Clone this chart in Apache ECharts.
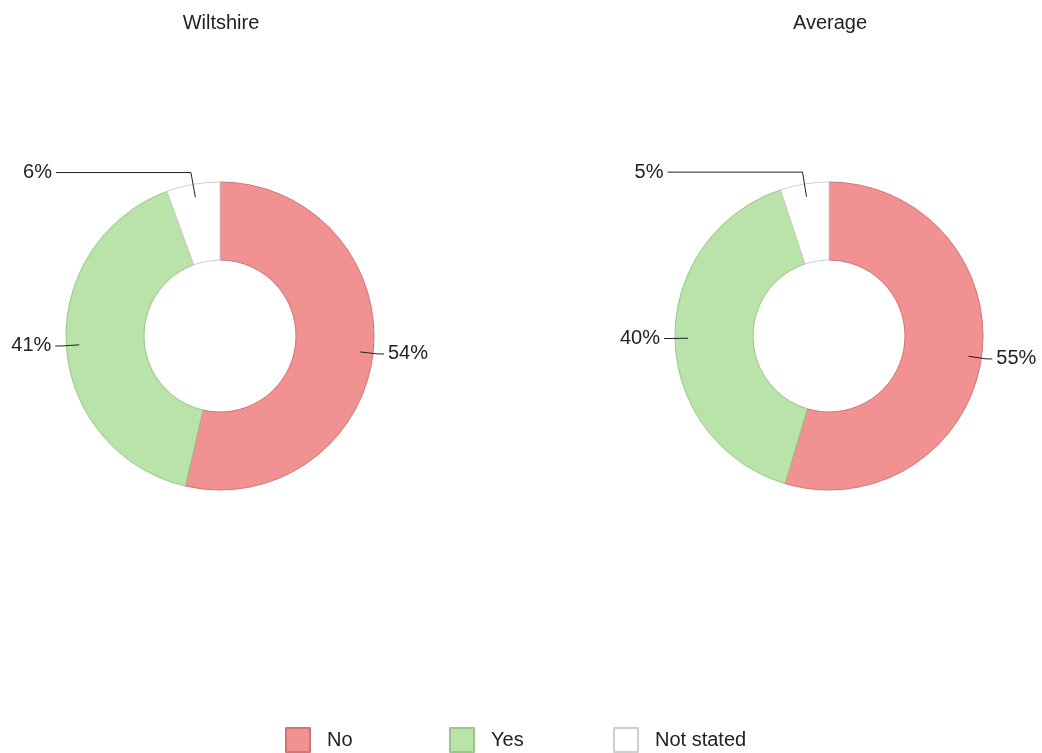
<!DOCTYPE html>
<html>
<head>
<meta charset="utf-8">
<script src="https://cdn.jsdelivr.net/npm/echarts@6/dist/echarts.min.js"></script>
<style>
  html, body { margin: 0; padding: 0; background: #fff; }
  #chart { width: 1042px; height: 753px; }
</style>
</head>
<body>
<div id="chart"></div>
<script>
// categories and values (percent)
var categories = ['No', 'Yes', 'Not stated'];
var wiltshireValues = [53.6, 40.8, 5.6];
var averageValues = [54.6, 40.3, 5.1];
var areaNames = ['Wiltshire', 'Average'];

var fills = ['#F29191', '#B9E3A8', '#FFFFFF'];
var borders = ['#D07575', '#98C788', '#CFCFCF'];
// label line lengths per slice [radial, horizontal]
var lineLens = [[18, 6], [18, 6], [25, 135]];

var centers = [[220, 336], [829, 336]];
var legendLeft = [280, 444, 608];
var font = 'Liberation Sans, Arial, sans-serif';

function ringSeries(values, center) {
  return {
    type: 'pie',
    z: 2,
    center: center,
    radius: [76, 154],
    startAngle: 90,
    label: { show: false },
    labelLine: { show: false },
    emphasis: { disabled: true },
    data: categories.map(function (c, i) {
      return {
        name: c,
        value: values[i],
        itemStyle: { color: fills[i], borderColor: borders[i], borderWidth: 1 }
      };
    })
  };
}

function labelSeries(values, center) {
  return {
    type: 'pie',
    z: 5,
    center: center,
    radius: [0, 141],
    startAngle: 90,
    silent: true,
    avoidLabelOverlap: false,
    itemStyle: { color: 'rgba(0,0,0,0)', borderWidth: 0 },
    emphasis: { disabled: true },
    label: {
      show: true,
      position: 'outside',
      color: '#222',
      fontSize: 20,
      fontFamily: font,
      distanceToLabelLine: 4,
      formatter: function (p) { return Math.round(p.value) + '%'; }
    },
    labelLine: { show: true, lineStyle: { color: '#222', width: 1 } },
    data: categories.map(function (c, i) {
      return {
        name: c,
        value: values[i],
        labelLine: { length: lineLens[i][0], length2: lineLens[i][1] }
      };
    })
  };
}

var chart = echarts.init(document.getElementById('chart'));
chart.setOption({
  animation: false,
  backgroundColor: '#fff',
  title: areaNames.map(function (n, i) {
    return {
      text: n,
      left: centers[i][0] - 4,
      top: 8,
      textAlign: 'center',
      textStyle: { fontSize: 20, fontWeight: 'normal', color: '#222', fontFamily: font }
    };
  }),
  legend: categories.map(function (c, i) {
    return {
      data: [c],
      top: 722,
      left: legendLeft[i],
      icon: 'rect',
      itemWidth: 24,
      itemHeight: 24,
      selectedMode: false,
      textStyle: { fontSize: 20, color: '#222', fontFamily: font, padding: [0, 0, 0, 12] }
    };
  }),
  series: [
    ringSeries(wiltshireValues, centers[0]),
    ringSeries(averageValues, centers[1]),
    labelSeries(wiltshireValues, centers[0]),
    labelSeries(averageValues, centers[1])
  ]
});
</script>
</body>
</html>
